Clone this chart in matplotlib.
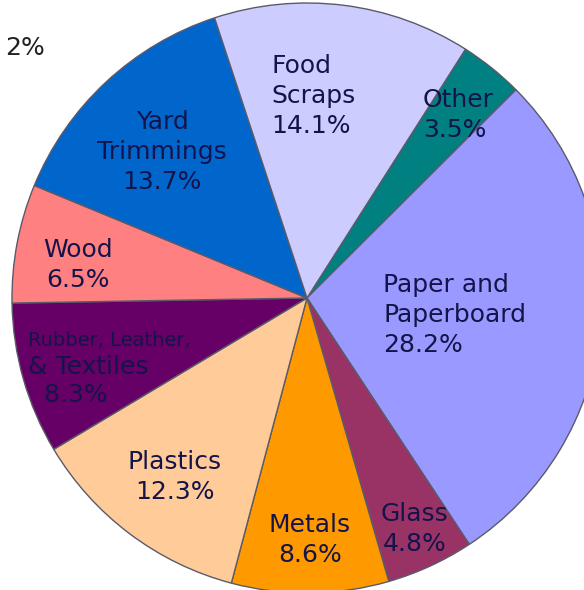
import numpy as np
import matplotlib.pyplot as plt

# 조각 순서: 시계방향, Other 부터
labels = ['Other', 'Paper and\nPaperboard', 'Glass', 'Metals', 'Plastics',
          'Rubber, Leather,\n& Textiles', 'Wood', 'Yard\nTrimmings', 'Food\nScraps']
values = [3.5, 28.2, 4.8, 8.6, 12.3, 8.3, 6.5, 13.7, 14.1]
colors = ['#008080', '#9999FF', '#993366', '#FF9900', '#FFCC99',
          '#660066', '#FF8080', '#0066CC', '#CCCCFF']

# 라벨 위치 (픽셀 좌표, 위에서부터)
label_pos = [(423, 115, 'left'), (383, 315, 'left'), (415, 529, 'center'),
             (310, 540, 'center'), (175, 477, 'center'), (28, 368, 'left'),
             (78, 265, 'center'), (162, 152, 'center'), (271, 96, 'left')]

W, H = 584, 590
fig = plt.figure(figsize=(W / 100, H / 100), dpi=100)
ax = fig.add_axes([0, 0, 1, 1])

ax.pie(values, colors=colors, startangle=57.5, counterclock=False,
       center=(307, H - 298), radius=295, frame=True,
       wedgeprops=dict(edgecolor='#5a5a6a', linewidth=1.0))

ax.set_xlim(0, W)
ax.set_ylim(0, H)
ax.set_aspect('equal')
ax.axis('off')

txtcolor = '#14144a'
fs = 18
for lab, v, (px, py, ha) in zip(labels, values, label_pos):
    if lab.startswith('Rubber'):
        # 긴 첫 줄은 작은 글자로
        ax.text(px, H - 340, 'Rubber, Leather,', fontsize=14, color=txtcolor,
                ha='left', va='center')
        ax.text(px, H - 381, '& Textiles\n  %.1f%%' % v, fontsize=fs,
                color=txtcolor, ha='left', va='center', linespacing=1.2)
        continue
    ax.text(px, H - py, '%s\n%.1f%%' % (lab, v), fontsize=fs, color=txtcolor,
            ha=ha, va='center', multialignment=ha, linespacing=1.3)

# 잘려나간 외부 라벨
ax.text(5, H - 48, '2%', fontsize=fs, color='#222222', ha='left', va='center')

fig.savefig('out.png', dpi=100)
